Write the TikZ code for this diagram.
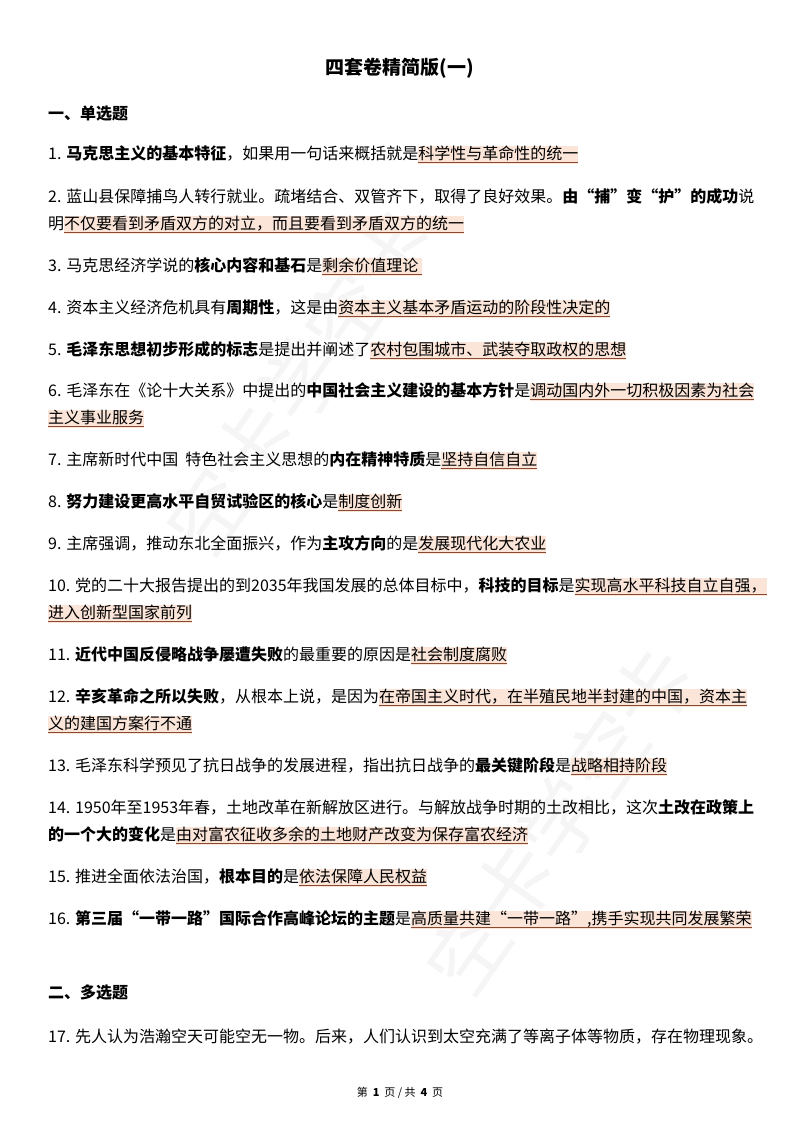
\documentclass[tikz,border=0pt]{standalone}
\usepackage{fontspec}
\setmainfont{Noto Sans CJK SC}
\definecolor{hlc}{HTML}{FBE4D8}
\definecolor{ulc}{HTML}{8A4A30}
\newsavebox\hlbox
\newcommand\hl[1]{\sbox\hlbox{#1}{\setlength\fboxsep{0pt}\colorbox{hlc}{\rule[-4pt]{0pt}{17pt}\usebox\hlbox}}\llap{{\color{ulc}\rule[-3.2pt]{\wd\hlbox}{0.7pt}}}}
\begin{document}
\begin{tikzpicture}[x=1pt,y=1pt,
  ln/.style={anchor=mid west,inner sep=0pt,font=\fontsize{16}{18}\selectfont},
  hd/.style={anchor=mid west,inner sep=0pt,font=\fontsize{16}{18}\selectfont\bfseries},
  wm/.style={font=\fontsize{80}{80}\selectfont,text=black!4,rotate=55}]
\useasboundingbox (0,0) rectangle (800,-1132);
\fill[white] (0,0) rectangle (800,-1132);
\node[wm] (w1) at (300,-380) {空卡学空卡};
\node[wm] (w2) at (560,-820) {空卡学空卡};
\node[anchor=mid,inner sep=0pt,font=\fontsize{19}{20}\selectfont\bfseries] (t) at (400,-72) {四套卷精简版(一)};
\node[hd] (h1) at (48,-117) {一、单选题};
\node[ln] (a1) at (48,-157) {1. \textbf{马克思主义的基本特征}，如果用一句话来概括就是\hl{科学性与革命性的统一}};
\node[ln] (a2) at (48,-200) {2. 蓝山县保障捕鸟人转行就业。疏堵结合、双管齐下，取得了良好效果。\textbf{由“捕”变“护”的成功}说};
\node[ln] (a2b) at (48,-227) {明\hl{不仅要看到矛盾双方的对立，而且要看到矛盾双方的统一}};
\node[ln] (a3) at (48,-269) {3. 马克思经济学说的\textbf{核心内容和基石}是\hl{剩余价值理论\ }};
\node[ln] (a4) at (48,-311) {4. 资本主义经济危机具有\textbf{周期性}，这是由\hl{资本主义基本矛盾运动的阶段性决定的}};
\node[ln] (a5) at (48,-353) {5. \textbf{毛泽东思想初步形成的标志}是提出并阐述了\hl{农村包围城市、武装夺取政权的思想}};
\node[ln] (a6) at (48,-394) {6. 毛泽东在《论十大关系》中提出的\textbf{中国社会主义建设的基本方针}是\hl{调动国内外一切积极因素为社会}};
\node[ln] (a6b) at (48,-421) {\hl{主义事业服务}};
\node[ln] (a7) at (48,-463) {7. 主席新时代中国\ \ 特色社会主义思想的\textbf{内在精神特质}是\hl{坚持自信自立}};
\node[ln] (a8) at (48,-505) {8. \textbf{努力建设更高水平自贸试验区的核心}是\hl{制度创新}};
\node[ln] (a9) at (48,-547) {9. 主席强调，推动东北全面振兴，作为\textbf{主攻方向}的是\hl{发展现代化大农业}};
\node[ln] (a10) at (48,-589) {10. 党的二十大报告提出的到2035年我国发展的总体目标中，\textbf{科技的目标}是\hl{实现高水平科技自立自强，}};
\node[ln] (a10b) at (48,-616) {\hl{进入创新型国家前列}};
\node[ln] (a11) at (48,-658) {11. \textbf{近代中国反侵略战争屡遭失败}的最重要的原因是\hl{社会制度腐败}};
\node[ln] (a12) at (48,-700) {12. \textbf{辛亥革命之所以失败}，从根本上说，是因为\hl{在帝国主义时代，在半殖民地半封建的中国，资本主}};
\node[ln] (a12b) at (48,-727) {\hl{义的建国方案行不通}};
\node[ln] (a13) at (48,-769) {13. 毛泽东科学预见了抗日战争的发展进程，指出抗日战争的\textbf{最关键阶段}是\hl{战略相持阶段}};
\node[ln] (a14) at (48,-811) {14. 1950年至1953年春，土地改革在新解放区进行。与解放战争时期的土改相比，这次\textbf{土改在政策上}};
\node[ln] (a14b) at (48,-838) {\textbf{的一个大的变化}是\hl{由对富农征收多余的土地财产改变为保存富农经济}};
\node[ln] (a15) at (48,-880) {15. 推进全面依法治国，\textbf{根本目的}是\hl{依法保障人民权益}};
\node[ln] (a16) at (48,-922) {16. \textbf{第三届“一带一路”国际合作高峰论坛的主题}是\hl{高质量共建“一带一路”,携手实现共同发展繁荣}};
\node[hd] (h2) at (48,-996) {二、多选题};
\node[ln] (a17) at (48,-1040) {17. 先人认为浩瀚空天可能空无一物。后来，人们认识到太空充满了等离子体等物质，存在物理现象。};
\node[anchor=mid,inner sep=0pt,font=\fontsize{11}{12}\selectfont] (f) at (400,-1094) {第\ \ \textbf{1}\ \ 页\ /\ 共\ \ \textbf{4}\ \ 页};
\end{tikzpicture}
\end{document}
